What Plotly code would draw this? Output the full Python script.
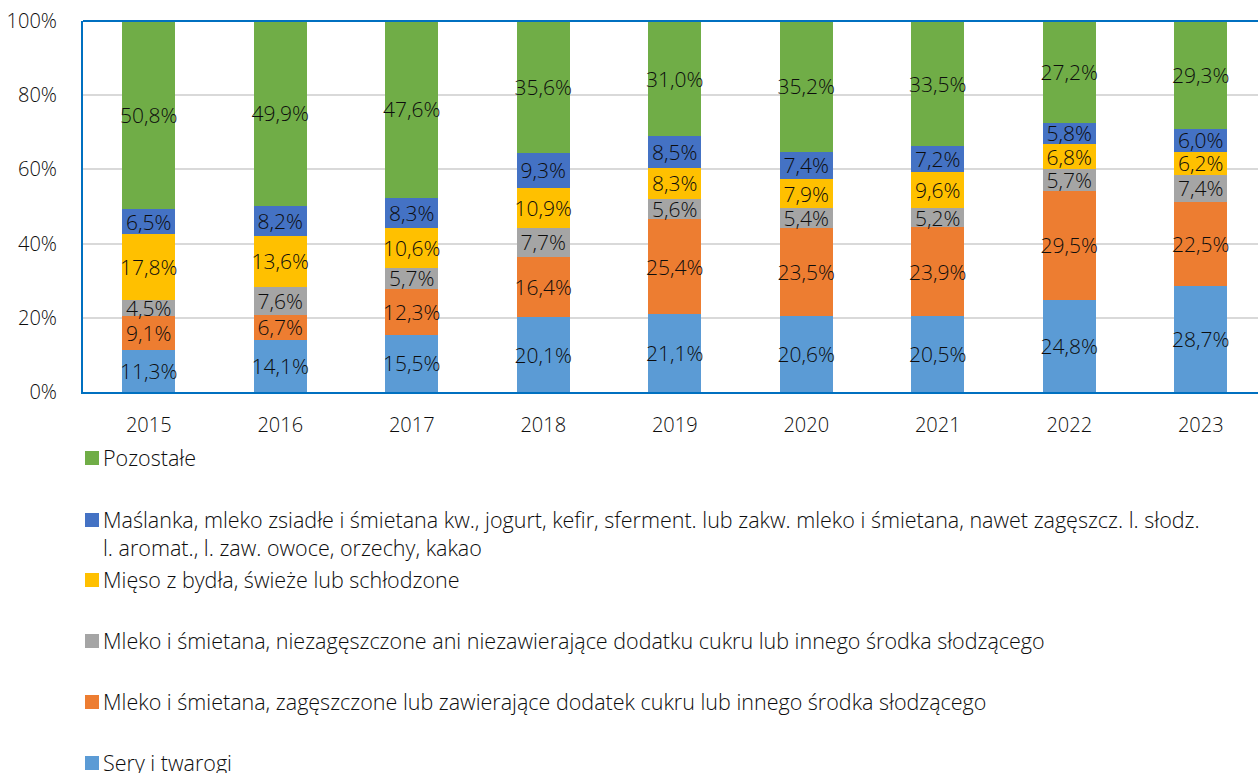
import plotly.graph_objects as go

years = ["2015", "2016", "2017", "2018", "2019", "2020", "2021", "2022", "2023"]

sery = [11.3, 14.1, 15.5, 20.1, 21.1, 20.6, 20.5, 24.8, 28.7]
mleko_zag = [9.1, 6.7, 12.3, 16.4, 25.4, 23.5, 23.9, 29.5, 22.5]
mleko_niezag = [4.5, 7.6, 5.7, 7.7, 5.6, 5.4, 5.2, 5.7, 7.4]
mieso = [17.8, 13.6, 10.6, 10.9, 8.3, 7.9, 9.6, 6.8, 6.2]
maslanka = [6.5, 8.2, 8.3, 9.3, 8.5, 7.4, 7.2, 5.8, 6.0]
pozostale = [50.8, 49.9, 47.6, 35.6, 31.0, 35.2, 33.5, 27.2, 29.3]

y_ticks = [0, 20, 40, 60, 80, 100]
y_tick_labels = ["0%", "20%", "40%", "60%", "80%", "100%"]

series_names = [
    "Sery i twarogi",
    "Mleko i śmietana, zagęszczone lub zawierające dodatek cukru lub innego środka słodzącego",
    "Mleko i śmietana, niezagęszczone ani niezawierające dodatku cukru lub innego środka słodzącego",
    "Mięso z bydła, świeże lub schłodzone",
    "Maślanka, mleko zsiadłe i śmietana kw., jogurt, kefir, sferment. lub zakw. mleko i śmietana, nawet zagęszcz. l. słodz.<br>l. aromat., l. zaw. owoce, orzechy, kakao",
    "Pozostałe",
]
series_values = [sery, mleko_zag, mleko_niezag, mieso, maslanka, pozostale]
series_colors = ["#5B9BD5", "#ED7D31", "#A5A5A5", "#FFC000", "#4472C4", "#70AD47"]

FONT = "Open Sans"
TXT = "#0d0d0d"
W, H = 1258, 773
L, T, B = 83, 21, 392  # plot area edges in pixels

fig = go.Figure()
for name, vals, col in zip(series_names, series_values, series_colors):
    fig.add_trace(go.Bar(
        x=years, y=vals, name=name,
        marker=dict(color=col, line=dict(width=0)),
        width=0.4,
        text=[f"{v:.1f}%".replace(".", ",") for v in vals],
        textposition="inside",
        insidetextanchor="middle",
        textangle=0,
        constraintext="none",
        textfont=dict(family=FONT, size=21, color=TXT, weight=300),
        showlegend=False,
        hoverinfo="skip",
    ))

# helpers to place legend items in pixel terms
def px_x(px):
    return (px - L) / (W - L)

def px_y(py):
    return (B - py) / (B - T)

legend_rows = [  # (series index, y center of first text line)
    (5, 458),
    (4, 520),
    (3, 580),
    (2, 641),
    (1, 702),
    (0, 763),
]
shapes = []
annotations = []
for idx, yc in legend_rows:
    shapes.append(dict(
        type="rect", xref="paper", yref="paper",
        x0=px_x(85), x1=px_x(99), y0=px_y(yc - 7), y1=px_y(yc + 7),
        fillcolor=series_colors[idx], line=dict(width=0),
    ))
    annotations.append(dict(
        xref="paper", yref="paper",
        x=px_x(101), y=px_y(yc - 17),
        xanchor="left", yanchor="top", align="left",
        text=series_names[idx], showarrow=False,
        font=dict(family=FONT, size=21.5, color=TXT, weight=300),
    ))

# top border of the plot area
shapes.append(dict(
    type="line", xref="paper", yref="paper",
    x0=0, x1=1, y0=1, y1=1,
    line=dict(color="#0070C0", width=2),
))

fig.update_layout(
    width=W, height=H,
    barmode="stack",
    margin=dict(l=L, r=0, t=T, b=H - B),
    plot_bgcolor="white", paper_bgcolor="white",
    uniformtext=dict(minsize=21, mode="show"),
    shapes=shapes,
    annotations=annotations,
    font=dict(family=FONT, color=TXT),
)
fig.update_xaxes(
    range=[-0.5, -0.5 + (W - L) / 131.5],
    showline=True, linecolor="#0070C0", linewidth=2,
    showgrid=False, ticks="",
    tickfont=dict(family=FONT, size=20, color=TXT, weight=300),
    ticklabelstandoff=14,
)
fig.update_yaxes(
    range=[0, 100], tickvals=y_ticks, ticktext=y_tick_labels,
    showline=True, linecolor="#0070C0", linewidth=2,
    showgrid=True, gridcolor="#D9D9D9", gridwidth=1.5,
    zeroline=False, ticks="",
    tickfont=dict(family=FONT, size=20, color=TXT, weight=300),
    ticklabelstandoff=20,
)

fig.write_html("out.html")
